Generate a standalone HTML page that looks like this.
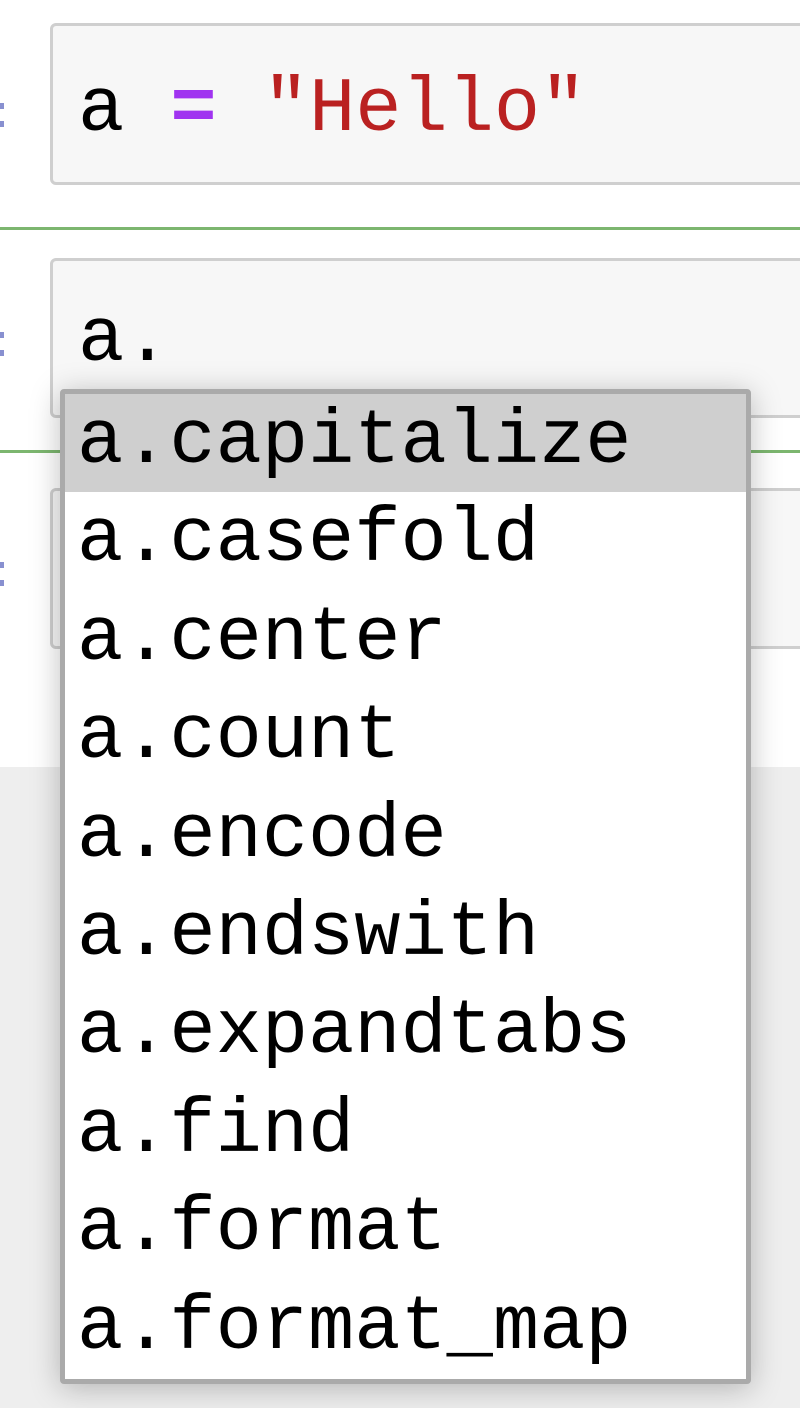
<!DOCTYPE html>
<html><head><meta charset="utf-8"><style>
html,body{margin:0;padding:0;}
body{width:800px;height:1408px;position:relative;overflow:hidden;background:#eeeeee;font-family:"Liberation Mono",monospace;}
.white{position:absolute;left:0;top:0;width:800px;height:767px;background:#fff;}
.cell{position:absolute;left:50px;width:780px;background:#f7f7f7;border:3px solid #cfcfcf;border-radius:6px;box-sizing:border-box;}
.txt{position:absolute;left:78px;font-size:77px;line-height:1;white-space:pre;color:#000;}
.green{position:absolute;left:0;width:800px;height:3px;background:#7cb66f;}
.prompt{position:absolute;left:0;width:4px;height:6px;background:#8890d0;}
.dd{position:absolute;left:60px;top:389px;width:691px;height:995px;border:5px solid #aaa;border-radius:4px;box-sizing:border-box;background:#fff;box-shadow:0 4px 30px rgba(0,0,0,0.25);}
.row{height:98.4px;line-height:98.4px;font-size:77px;padding-left:12px;white-space:pre;color:#000;}
.sel{background:#cfcfcf;}
</style></head><body>
<div class="white"></div>
<div class="prompt" style="top:103px"></div><div class="prompt" style="top:121px"></div>
<div class="cell" style="top:23px;height:162px"></div>
<div class="txt" style="top:72px">a <span style="color:#a033f0;font-weight:bold">=</span> <span style="color:#ba2121">"Hello"</span></div>
<div class="green" style="top:227px"></div>
<div class="prompt" style="top:332px"></div><div class="prompt" style="top:350px"></div>
<div class="cell" style="top:258px;height:160px"></div>
<div class="txt" style="top:302px">a.</div>
<div class="green" style="top:450px"></div>
<div class="prompt" style="top:562px"></div><div class="prompt" style="top:580px"></div>
<div class="cell" style="top:488px;height:161px"></div>
<div class="dd">
<div class="row sel">a.capitalize</div>
<div class="row">a.casefold</div>
<div class="row">a.center</div>
<div class="row">a.count</div>
<div class="row">a.encode</div>
<div class="row">a.endswith</div>
<div class="row">a.expandtabs</div>
<div class="row">a.find</div>
<div class="row">a.format</div>
<div class="row">a.format_map</div>
</div>
</body></html>
